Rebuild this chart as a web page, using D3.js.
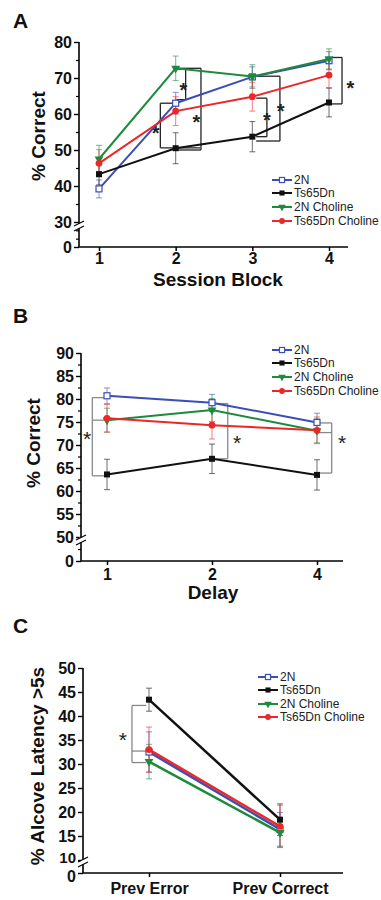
<!DOCTYPE html>
<html>
<head>
<meta charset="utf-8">
<script src="https://cdn.jsdelivr.net/npm/d3@7"></script>
<style>
body { margin: 0; background: #fff; }
svg { font-family: "Liberation Sans", Arial, sans-serif; }
</style>
</head>
<body>
<script>
// groups shared by the three panels
var groups = ["2N", "Ts65Dn", "2N Choline", "Ts65Dn Choline"];
var colors = ["#3b4db6", "#111111", "#1d8a3c", "#ec2727"];

// A: session blocks
var blocks = ["1", "2", "3", "4"];
var blockMeans = [
  [39.2, 63.0, 70.3, 74.8],
  [43.3, 50.5, 53.7, 63.2],
  [47.5, 72.7, 70.4, 75.3],
  [46.3, 60.8, 64.8, 70.8]
];
var blockErr = [
  [2.5, 3.0, 2.8, 2.5],
  [3.0, 4.3, 4.2, 4.0],
  [3.8, 3.4, 3.3, 2.8],
  [3.8, 4.0, 4.0, 3.5]
];
var blockTicks = [0, 30, 40, 50, 60, 70, 80];

// B: delay
var delays = ["1", "2", "4"];
var delayMeans = [
  [80.7, 79.2, 74.9],
  [63.6, 67.0, 63.5],
  [75.4, 77.6, 73.1],
  [75.8, 74.3, 73.2]
];
var delayErr = [
  [1.7, 1.8, 2.0],
  [3.3, 3.2, 3.3],
  [2.6, 2.5, 2.6],
  [3.0, 3.0, 2.9]
];
var delayTicks = [0, 50, 55, 60, 65, 70, 75, 80, 85, 90];

// C: alcove latency
var prevTrial = ["Prev Error", "Prev Correct"];
var latencyMeans = [
  [32.5, 16.4],
  [43.4, 18.4],
  [30.5, 15.7],
  [33.0, 17.0]
];
var latencyErr = [
  [4.2, 3.5],
  [2.4, 3.3],
  [3.6, 3.0],
  [4.7, 4.4]
];
var latencyTicks = [0, 10, 15, 20, 25, 30, 35, 40, 45, 50];

// significance brackets: x of the vertical (category index), y values of arms, x end of arms
var blockBrackets = [
  { x: 1.13, ys: [72.5, 64.0], to: 1.01, star: [1.10, 68.1] },
  { x: 1.33, ys: [72.7, 50.0], to: 1.01, star: [1.27, 59.3] },
  { x: 0.80, ys: [63.0, 50.6], to: [1.0, 1.32], star: [0.74, 56.1] },
  { x: 2.19, ys: [64.4, 53.7], to: 2.05, star: [2.19, 59.7] },
  { x: 2.36, ys: [70.5, 52.5], to: 2.05, star: [2.37, 62.2] },
  { x: 3.17, ys: [75.7, 62.8], to: 3.03, star: [3.28, 68.5] }
];
var delayBrackets = [
  { x: -0.14, ys: [80.3, 75.4, 63.3], to: 0.0, star: [-0.19, 72.6] },
  { x: 1.15, ys: [79.0, 67.0], to: 1.0, star: [1.24, 71.6] },
  { x: 2.14, ys: [74.8, 72.7, 63.9], to: 2.0, star: [2.24, 71.6] }
];
var latencyBrackets = [
  { x: -0.13, ys: [42.2, 32.7, 30.3], to: -0.02, star: [-0.2, 36.2] }
];

var svg = d3.select("body").append("svg")
    .attr("width", 381)
    .attr("height", 900);

function drawPanel(o) {
  var g = svg.append("g");

  var x = d3.scaleLinear().domain([0, o.cats.length - 1]).range(o.xr);
  var y = d3.scaleLinear().domain([0, o.brk, o.top]).range(o.yr);

  // x axis
  var xa = g.append("g")
      .attr("transform", "translate(0," + o.yr[0] + ")")
      .call(d3.axisBottom(x).tickValues(d3.range(o.cats.length))
        .tickFormat(function(i) { return o.cats[i]; })
        .tickSize(4).tickSizeOuter(0).tickPadding(o.xpad));
  xa.select(".domain").remove();
  xa.selectAll("line").attr("stroke", "#000").attr("stroke-width", 1.5);
  xa.selectAll("text").attr("font-size", o.xfs).attr("font-weight", "bold").attr("fill", "#111");
  g.append("line")
      .attr("x1", o.ax).attr("x2", o.xend)
      .attr("y1", o.yr[0]).attr("y2", o.yr[0])
      .attr("stroke", "#000").attr("stroke-width", 1.6);

  // y axis
  var ya = g.append("g")
      .attr("transform", "translate(" + o.ax + ",0)")
      .call(d3.axisLeft(y).tickValues(o.ticks).tickSize(5).tickPadding(2));
  ya.select(".domain").remove();
  ya.selectAll("line").attr("stroke", "#000").attr("stroke-width", 1.4);
  ya.selectAll("text").attr("font-size", o.yfs).attr("font-weight", "bold").attr("fill", "#111");
  // labels at the break are squeezed apart a little
  ya.selectAll("text").filter(function(d) { return d === 0; }).attr("dy", o.zeroDy);
  ya.selectAll("text").filter(function(d) { return d === o.brk; })
      .attr("dy", o.brkDy).attr("font-size", o.brkFs);

  var minor = g.append("g")
      .attr("transform", "translate(" + o.ax + ",0)")
      .call(d3.axisLeft(y).tickValues(o.minor).tickSize(3).tickFormat(""));
  minor.select(".domain").remove();
  minor.selectAll("line").attr("stroke", "#000").attr("stroke-width", 1.2);

  g.append("line")
      .attr("x1", o.ax).attr("x2", o.ax)
      .attr("y1", o.yr[0]).attr("y2", o.yr[2])
      .attr("stroke", "#000").attr("stroke-width", 1.6);

  // axis break
  var by = y(o.brk) + o.bkOff;
  g.append("rect")
      .attr("x", o.ax - 2).attr("y", by - 2.5)
      .attr("width", 4).attr("height", 5)
      .attr("fill", "#fff");
  [-2.5, 2.5].forEach(function(d) {
    g.append("line")
        .attr("x1", o.ax - 5).attr("x2", o.ax + 5)
        .attr("y1", by + d + 2.5).attr("y2", by + d - 2.5)
        .attr("stroke", "#000").attr("stroke-width", 1.2);
  });

  // axis titles
  g.append("text")
      .attr("transform", "translate(" + o.ylab[0] + "," + o.ylab[1] + ") rotate(-90)")
      .attr("text-anchor", "middle")
      .attr("font-size", 19).attr("font-weight", "bold").attr("fill", "#111")
      .text(o.ytitle);
  if (o.xtitle) {
    g.append("text")
        .attr("x", o.xlab[0]).attr("y", o.xlab[1])
        .attr("text-anchor", "middle")
        .attr("font-size", 19).attr("font-weight", "bold").attr("fill", "#111")
        .text(o.xtitle);
  }
  g.append("text")
      .attr("x", 13).attr("y", o.letterY)
      .attr("font-size", 21).attr("font-weight", "bold").attr("fill", "#111")
      .text(o.letter);

  // brackets
  o.brackets.forEach(function(b) {
    var ys = b.ys.map(y);
    g.append("line")
        .attr("x1", x(b.x)).attr("x2", x(b.x))
        .attr("y1", ys[0]).attr("y2", ys[ys.length - 1])
        .attr("stroke", o.bkColor).attr("stroke-width", 1.3);
    ys.forEach(function(v, i) {
      var end = Array.isArray(b.to) ? b.to[i] : b.to;
      g.append("line")
          .attr("x1", x(b.x)).attr("x2", x(end))
          .attr("y1", v).attr("y2", v)
          .attr("stroke", o.bkColor).attr("stroke-width", 1.3);
    });
    g.append("text")
        .attr("x", x(b.star[0])).attr("y", y(b.star[1]) + o.starFs * 0.6)
        .attr("text-anchor", "middle")
        .attr("font-size", o.starFs).attr("font-weight", o.starW)
        .attr("fill", "#222")
        .text("*");
  });

  var line = d3.line()
      .x(function(d, i) { return x(i); })
      .y(function(d) { return y(d); });

  // error bars
  o.means.forEach(function(series, k) {
    series.forEach(function(m, i) {
      var e = o.err[k][i];
      var eg = g.append("g")
          .attr("stroke", colors[k]).attr("stroke-opacity", 0.55).attr("stroke-width", 1.1);
      eg.append("line").attr("x1", x(i)).attr("x2", x(i)).attr("y1", y(m - e)).attr("y2", y(m + e));
      eg.append("line").attr("x1", x(i) - 3).attr("x2", x(i) + 3).attr("y1", y(m - e)).attr("y2", y(m - e));
      eg.append("line").attr("x1", x(i) - 3).attr("x2", x(i) + 3).attr("y1", y(m + e)).attr("y2", y(m + e));
    });
  });

  // lines and markers
  o.means.forEach(function(series, k) {
    g.append("path")
        .attr("d", line(series))
        .attr("fill", "none")
        .attr("stroke", colors[k])
        .attr("stroke-width", o.lw);
    series.forEach(function(m, i) {
      marker(g, k, x(i), y(m), 1);
    });
  });

  // legend
  groups.forEach(function(name, k) {
    var ry = o.legRows[k];
    g.append("line")
        .attr("x1", o.legX).attr("x2", o.legX + 20)
        .attr("y1", ry).attr("y2", ry)
        .attr("stroke", colors[k]).attr("stroke-width", 2);
    marker(g, k, o.legX + 10, ry, 0.85);
    g.append("text")
        .attr("x", o.legX + 22).attr("y", ry + 4)
        .attr("font-size", 12).attr("fill", "#222")
        .text(name);
  });
}

function marker(g, k, cx, cy, s) {
  if (k === 0) {
    g.append("rect")
        .attr("x", cx - 3 * s).attr("y", cy - 3 * s)
        .attr("width", 6 * s).attr("height", 6 * s)
        .attr("fill", "#fff").attr("stroke", colors[0]).attr("stroke-width", 1.2);
  } else if (k === 1) {
    g.append("rect")
        .attr("x", cx - 3 * s).attr("y", cy - 3 * s)
        .attr("width", 6 * s).attr("height", 6 * s)
        .attr("fill", colors[1]);
  } else if (k === 2) {
    g.append("path")
        .attr("d", d3.symbol().type(d3.symbolTriangle).size(34 * s * s)())
        .attr("transform", "translate(" + cx + "," + cy + ") rotate(180)")
        .attr("fill", colors[2]);
  } else {
    g.append("circle")
        .attr("cx", cx).attr("cy", cy).attr("r", 3.4 * s)
        .attr("fill", colors[3]);
  }
}

drawPanel({
  letter: "A", letterY: 28,
  cats: blocks, means: blockMeans, err: blockErr,
  xr: [99, 329], ax: 79, xend: 348,
  yr: [247, 222, 42], brk: 30, top: 80, bkOff: 4,
  ticks: blockTicks, minor: [10, 20, 35, 45, 55, 65, 75],
  xfs: 16, xpad: 2, yfs: 16, zeroDy: "0.32em", brkDy: "0.32em", brkFs: 16,
  ytitle: "% Correct", ylab: [45, 136],
  xtitle: "Session Block", xlab: [218, 286],
  brackets: blockBrackets, bkColor: "#222", starFs: 20, starW: "bold",
  lw: 2, legX: 272, legRows: [180, 193, 207, 221]
});

drawPanel({
  letter: "B", letterY: 323,
  cats: delays, means: delayMeans, err: delayErr,
  xr: [107, 317], ax: 81, xend: 343,
  yr: [561, 537, 353], brk: 50, top: 90, bkOff: 3,
  ticks: delayTicks, minor: [25, 52.5, 57.5, 62.5, 67.5, 72.5, 77.5, 82.5, 87.5],
  xfs: 16, xpad: 4, yfs: 16, zeroDy: "0.32em", brkDy: "0.32em", brkFs: 16,
  ytitle: "% Correct", ylab: [40, 443],
  xtitle: "Delay", xlab: [213, 599],
  brackets: delayBrackets, bkColor: "#888", starFs: 21, starW: "normal",
  lw: 2, legX: 272, legRows: [350, 363, 377, 391]
});

drawPanel({
  letter: "C", letterY: 633,
  cats: prevTrial, means: latencyMeans, err: latencyErr,
  xr: [149, 280], ax: 83, xend: 343,
  yr: [873, 860, 668], brk: 10, top: 50, bkOff: 2,
  ticks: latencyTicks, minor: [],
  xfs: 16, xpad: 6, yfs: 16, zeroDy: "0.5em", brkDy: "0.18em", brkFs: 15,
  ytitle: "% Alcove Latency >5s", ylab: [44, 766],
  xtitle: null,
  brackets: latencyBrackets, bkColor: "#888", starFs: 21, starW: "normal",
  lw: 2.5, legX: 258, legRows: [677, 690, 704, 717]
});
</script>
</body>
</html>
